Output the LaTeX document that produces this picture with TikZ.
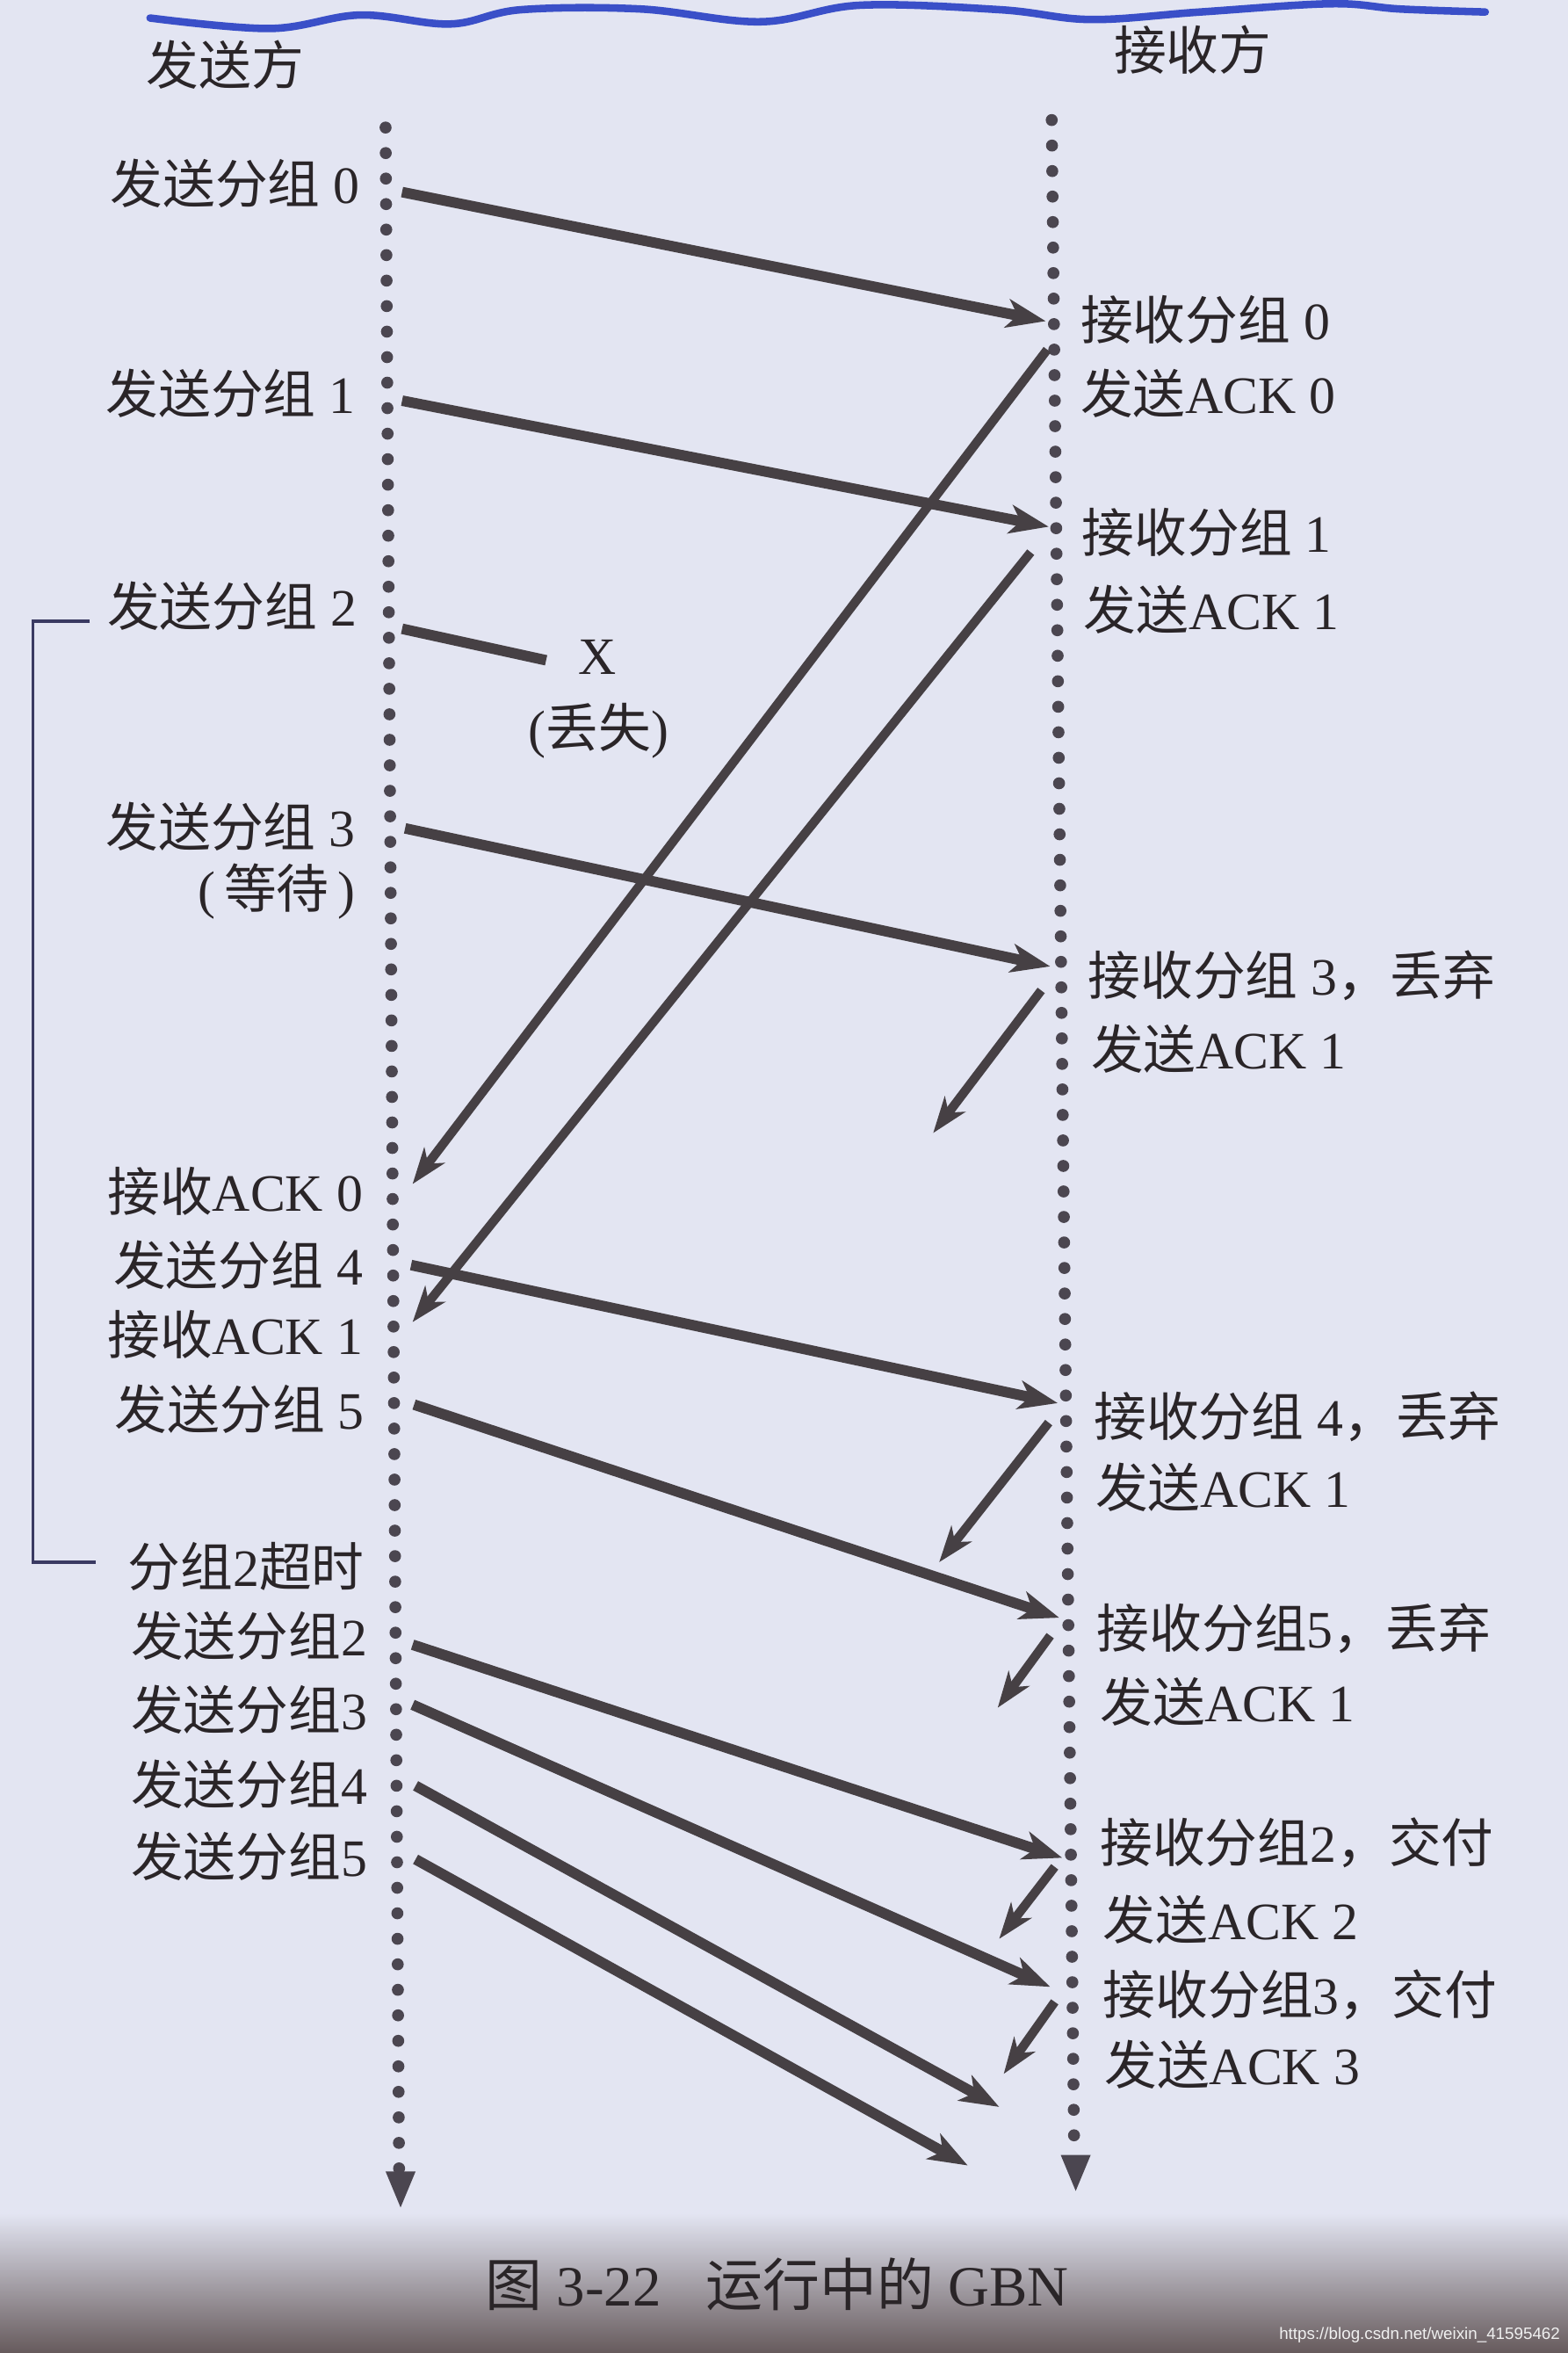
\documentclass[tikz,border=0pt]{standalone}
\usepackage{fontspec}
\setmainfont{Liberation Serif}
\newfontfamily\cjk{Noto Sans CJK SC}
\newfontfamily\wmfont{Liberation Sans}
\usetikzlibrary{arrows.meta}
\newcommand{\zh}[1]{{\cjk #1}}
\definecolor{paper}{HTML}{E3E5F2}
\definecolor{ink}{HTML}{2A2528}
\definecolor{arr}{HTML}{464044}
\definecolor{dotc}{HTML}{4B4650}
\definecolor{pen}{HTML}{3A4FC8}
\definecolor{shadowc}{HTML}{665A5C}
\definecolor{brk}{HTML}{3A3A62}
\begin{document}
\begin{tikzpicture}[x=1pt,y=-1pt,
  lbl/.style={inner sep=0pt, text=ink, font=\fontsize{35}{40}\selectfont},
  lft/.style={lbl, anchor=east},
  rgt/.style={lbl, anchor=west},
  msg/.style={draw=arr, line width=7pt, -{Stealth[length=26pt,width=19pt,inset=7pt]}},
  ack/.style={draw=arr, line width=6pt, -{Stealth[length=24pt,width=17pt,inset=7pt]}},
  dotline/.style={draw=dotc, line width=8pt, line cap=round, dash pattern=on 0pt off 17pt},
  endtri/.style={fill=dotc},
  bracket/.style={draw=brk, line width=2pt},
  bluepen/.style={draw=pen, line width=5pt, line cap=round}]
\useasboundingbox (0,0) rectangle (1045,1568);
\fill[paper] (0,0) rectangle (1045,1568);
\shade[top color=paper, bottom color=shadowc] (0,1475) rectangle (1045,1568);

% blue pen mark
\draw[bluepen] plot[smooth, tension=0.6] coordinates {(100,12) (180,19) (240,10) (300,16) (347,6.5) (427,6) (507,14.5) (573,3.5) (667,6.5) (727,13) (800,8) (887,2.5) (933,6) (990,8)};

% headers
\node[lbl] (hs) at (150,43) {\zh{发送方}};
\node[lbl] (hr) at (795,33) {\zh{接收方}};

% time lines
\coordinate (LT) at (257,85);
\coordinate (LB) at (266,1445);
\coordinate (RT) at (701,80);
\coordinate (RB) at (716,1434);
\draw[dotline] (LT) -- (LB);
\draw[dotline] (RT) -- (RB);
\fill[endtri] (257,1447) -- (277,1447) -- (267,1471) -- cycle;
\fill[endtri] (707,1436) -- (727,1436) -- (717,1460) -- cycle;

% sender labels
\node[lft] (s0) at (240,122) {\zh{发送分组} 0};
\node[lft] (s1) at (237,262) {\zh{发送分组} 1};
\node[lft] (s2) at (238,404) {\zh{发送分组} 2};
\node[lft] (s3) at (237,551) {\zh{发送分组} 3};
\node[lft] (s3w) at (237,594) {(\,\zh{等待}\,)};
\node[lft] (k0r) at (242,794) {\zh{接收}ACK 0};
\node[lft] (s4) at (242,843) {\zh{发送分组} 4};
\node[lft] (k1r) at (242,889) {\zh{接收}ACK 1};
\node[lft] (s5) at (243,939) {\zh{发送分组} 5};
\node[lft] (to) at (243,1044) {\zh{分组}2\zh{超时}};
\node[lft] (t2) at (245,1090) {\zh{发送分组}2};
\node[lft] (t3) at (245,1139) {\zh{发送分组}3};
\node[lft] (t4) at (245,1189) {\zh{发送分组}4};
\node[lft] (t5) at (245,1237) {\zh{发送分组}5};

% receiver labels
\node[rgt] (r0) at (720,213) {\zh{接收分组} 0};
\node[rgt] (a0) at (720,262) {\zh{发送}ACK 0};
\node[rgt] (r1) at (721,355) {\zh{接收分组} 1};
\node[rgt] (a1) at (722,406) {\zh{发送}ACK 1};
\node[rgt] (r3) at (725,650) {\zh{接收分组} 3\zh{，丢弃}};
\node[rgt] (a3) at (727,699) {\zh{发送}ACK 1};
\node[rgt] (r4) at (729,944) {\zh{接收分组} 4\zh{，丢弃}};
\node[rgt] (a4) at (730,991) {\zh{发送}ACK 1};
\node[rgt] (r5) at (731,1085) {\zh{接收分组}5\zh{，丢弃}};
\node[rgt] (a5) at (733,1134) {\zh{发送}ACK 1};
\node[rgt] (q2) at (733,1228) {\zh{接收分组}2\zh{，交付}};
\node[rgt] (b2) at (735,1279) {\zh{发送}ACK 2};
\node[rgt] (q3) at (735,1329) {\zh{接收分组}3\zh{，交付}};
\node[rgt] (b3) at (736,1376) {\zh{发送}ACK 3};

% lost marker
\node[lbl] (lx) at (398,438) {X};
\node[lbl] (ll) at (399,487) {(\zh{丢失})};

% bracket
\coordinate (BT) at (60,414);
\coordinate (BB) at (64,1041);
\draw[bracket] (BT) -- (22,414) -- (22,1041) -- (BB);

% message endpoints
\coordinate (m0a) at (268,128);  \coordinate (m0b) at (697,214);
\coordinate (m1a) at (268,267);  \coordinate (m1b) at (699,351);
\coordinate (m2a) at (268,419);  \coordinate (m2b) at (364,440);
\coordinate (m3a) at (270,552);  \coordinate (m3b) at (700,644);
\coordinate (m4a) at (274,843);  \coordinate (m4b) at (705,935);
\coordinate (m5a) at (276,936);  \coordinate (m5b) at (706,1078);
\coordinate (n2a) at (275,1096); \coordinate (n2b) at (708,1238);
\coordinate (n3a) at (275,1136); \coordinate (n3b) at (700,1324);
\coordinate (n4a) at (277,1190); \coordinate (n4b) at (666,1404);
\coordinate (n5a) at (277,1239); \coordinate (n5b) at (645,1443);

\draw[msg] (m0a) -- (m0b);
\draw[msg] (m1a) -- (m1b);
\draw[draw=arr, line width=7pt] (m2a) -- (m2b);
\draw[msg] (m3a) -- (m3b);
\draw[msg] (m4a) -- (m4b);
\draw[msg] (m5a) -- (m5b);
\draw[msg] (n2a) -- (n2b);
\draw[msg] (n3a) -- (n3b);
\draw[msg] (n4a) -- (n4b);
\draw[msg] (n5a) -- (n5b);

% ack endpoints
\coordinate (c0a) at (698,233);  \coordinate (c0b) at (275,789);
\coordinate (c1a) at (687,368);  \coordinate (c1b) at (275,881);
\coordinate (c3a) at (694,660);  \coordinate (c3b) at (622,755);
\coordinate (c4a) at (699,948);  \coordinate (c4b) at (626,1041);
\coordinate (c5a) at (700,1090); \coordinate (c5b) at (665,1138);
\coordinate (d2a) at (703,1244); \coordinate (d2b) at (666,1292);
\coordinate (d3a) at (703,1334); \coordinate (d3b) at (669,1382);

\draw[ack] (c0a) -- (c0b);
\draw[ack] (c1a) -- (c1b);
\draw[ack] (c3a) -- (c3b);
\draw[ack] (c4a) -- (c4b);
\draw[ack] (c5a) -- (c5b);
\draw[ack] (d2a) -- (d2b);
\draw[ack] (d3a) -- (d3b);

% caption
\node[lbl, font=\fontsize{38}{42}\selectfont] (cap) at (518,1522) {\zh{图} 3-22\hspace{30pt}\zh{运行中的} GBN};

% watermark
\node[inner sep=0pt, anchor=east, text=white!88!gray, font=\wmfont\fontsize{11}{12}\selectfont] (wm) at (1040,1556) {https://blog.csdn.net/weixin\_41595462};
\end{tikzpicture}
\end{document}
